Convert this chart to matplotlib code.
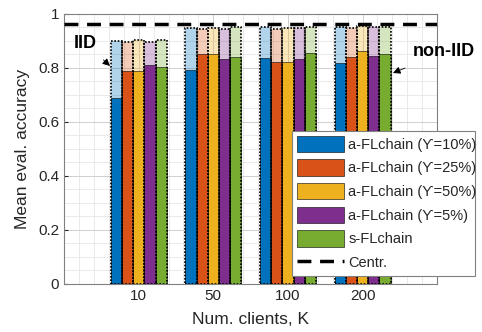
import matplotlib
matplotlib.use("Agg")
import matplotlib.pyplot as plt
from matplotlib.ticker import MultipleLocator
import numpy as np

plt.rcParams['font.family'] = ['Liberation Sans', 'DejaVu Sans']

clients = ["10", "50", "100", "200"]
series = ["a-FLchain (\u03d2=10%)", "a-FLchain (\u03d2=25%)", "a-FLchain (\u03d2=50%)",
          "a-FLchain (\u03d2=5%)", "s-FLchain"]
colors = ["#0072BD", "#D95319", "#EDB120", "#7E2F8E", "#77AC30"]

iid = [
    [0.901, 0.948, 0.951, 0.951],
    [0.896, 0.946, 0.946, 0.948],
    [0.904, 0.948, 0.948, 0.956],
    [0.896, 0.943, 0.948, 0.953],
    [0.904, 0.951, 0.951, 0.953],
]
noniid = [
    [0.690, 0.793, 0.836, 0.817],
    [0.789, 0.851, 0.822, 0.840],
    [0.790, 0.851, 0.822, 0.863],
    [0.811, 0.833, 0.832, 0.844],
    [0.805, 0.840, 0.854, 0.852],
]
centralized = 0.963
yticks = [0, 0.2, 0.4, 0.6, 0.8, 1.0]
yticklabels = ['0', '0.2', '0.4', '0.6', '0.8', '1']

fig = plt.figure(figsize=(4.82, 3.32), dpi=100)
ax = fig.add_axes([0.133, 0.145, 0.774, 0.813])

x = np.arange(1, len(clients) + 1)
w = 0.15
handles = []
for i in range(len(series)):
    xs = x + (i - 2) * w
    ax.bar(xs, iid[i], width=w, color=colors[i], alpha=0.3, zorder=2)
    ax.bar(xs, iid[i], width=w, fill=False, edgecolor='black', linestyle=(0, (1, 1)),
           linewidth=1.2, zorder=4)
    h = ax.bar(xs, noniid[i], width=w, color=colors[i], edgecolor='black', linewidth=0.4,
               zorder=3, label=series[i])
    handles.append(h)

ln, = ax.plot([0, 5], [centralized, centralized], color='black', linestyle=(0, (4, 2.5)),
              linewidth=2.5, zorder=5, label='Centr.')
handles.append(ln)

ax.set_xlim(0, 5)
ax.set_ylim(0, 1)
ax.set_xticks(x)
ax.set_xticklabels(clients)
ax.set_yticks(yticks)
ax.set_yticklabels(yticklabels)
ax.xaxis.set_minor_locator(MultipleLocator(0.2))
ax.yaxis.set_minor_locator(MultipleLocator(0.05))
ax.grid(which='major', color='#cfcfcf', linewidth=0.7, zorder=0)
ax.grid(which='minor', color='#e6e6e6', linewidth=0.6, zorder=0)
ax.set_axisbelow(True)
ax.tick_params(which='both', direction='in', colors='#262626', labelsize=11, length=3)
ax.tick_params(which='minor', length=0)
for s in ax.spines.values():
    s.set_color('#808080')
    s.set_linewidth(0.8)

ax.set_xlabel('Num. clients, K', fontsize=12.5, color='#262626', labelpad=7)
ax.set_ylabel('Mean eval. accuracy', fontsize=12.5, color='#262626', labelpad=6)

ax.annotate('IID', xy=(110, 332 - 66), xycoords='figure pixels', xytext=(85, 332 - 43),
            textcoords='figure pixels', fontsize=13, fontweight='bold', ha='center', va='center',
            arrowprops=dict(arrowstyle='-|>', color='black', lw=0.6, shrinkA=6, shrinkB=0,
                            mutation_scale=11))
ax.annotate('non-IID', xy=(393, 332 - 73), xycoords='figure pixels', xytext=(444, 332 - 52),
            textcoords='figure pixels', fontsize=13, fontweight='bold', ha='center', va='center',
            arrowprops=dict(arrowstyle='-|>', color='black', lw=0.6, shrinkA=9, shrinkB=0,
                            mutation_scale=11))

leg = fig.legend(handles=handles, loc='lower left', bbox_to_anchor=(0.606, 0.17, 0.38, 0.43),
                 mode='expand', fontsize=10.5, frameon=True, fancybox=False, framealpha=1,
                 edgecolor='#808080', handlelength=3.2, handleheight=1.35, labelspacing=0.5,
                 borderaxespad=0, borderpad=0.35, handletextpad=0.3)
leg.get_frame().set_linewidth(0.8)
for t in leg.get_texts():
    t.set_color('#262626')

fig.savefig('out.png', dpi=100)
